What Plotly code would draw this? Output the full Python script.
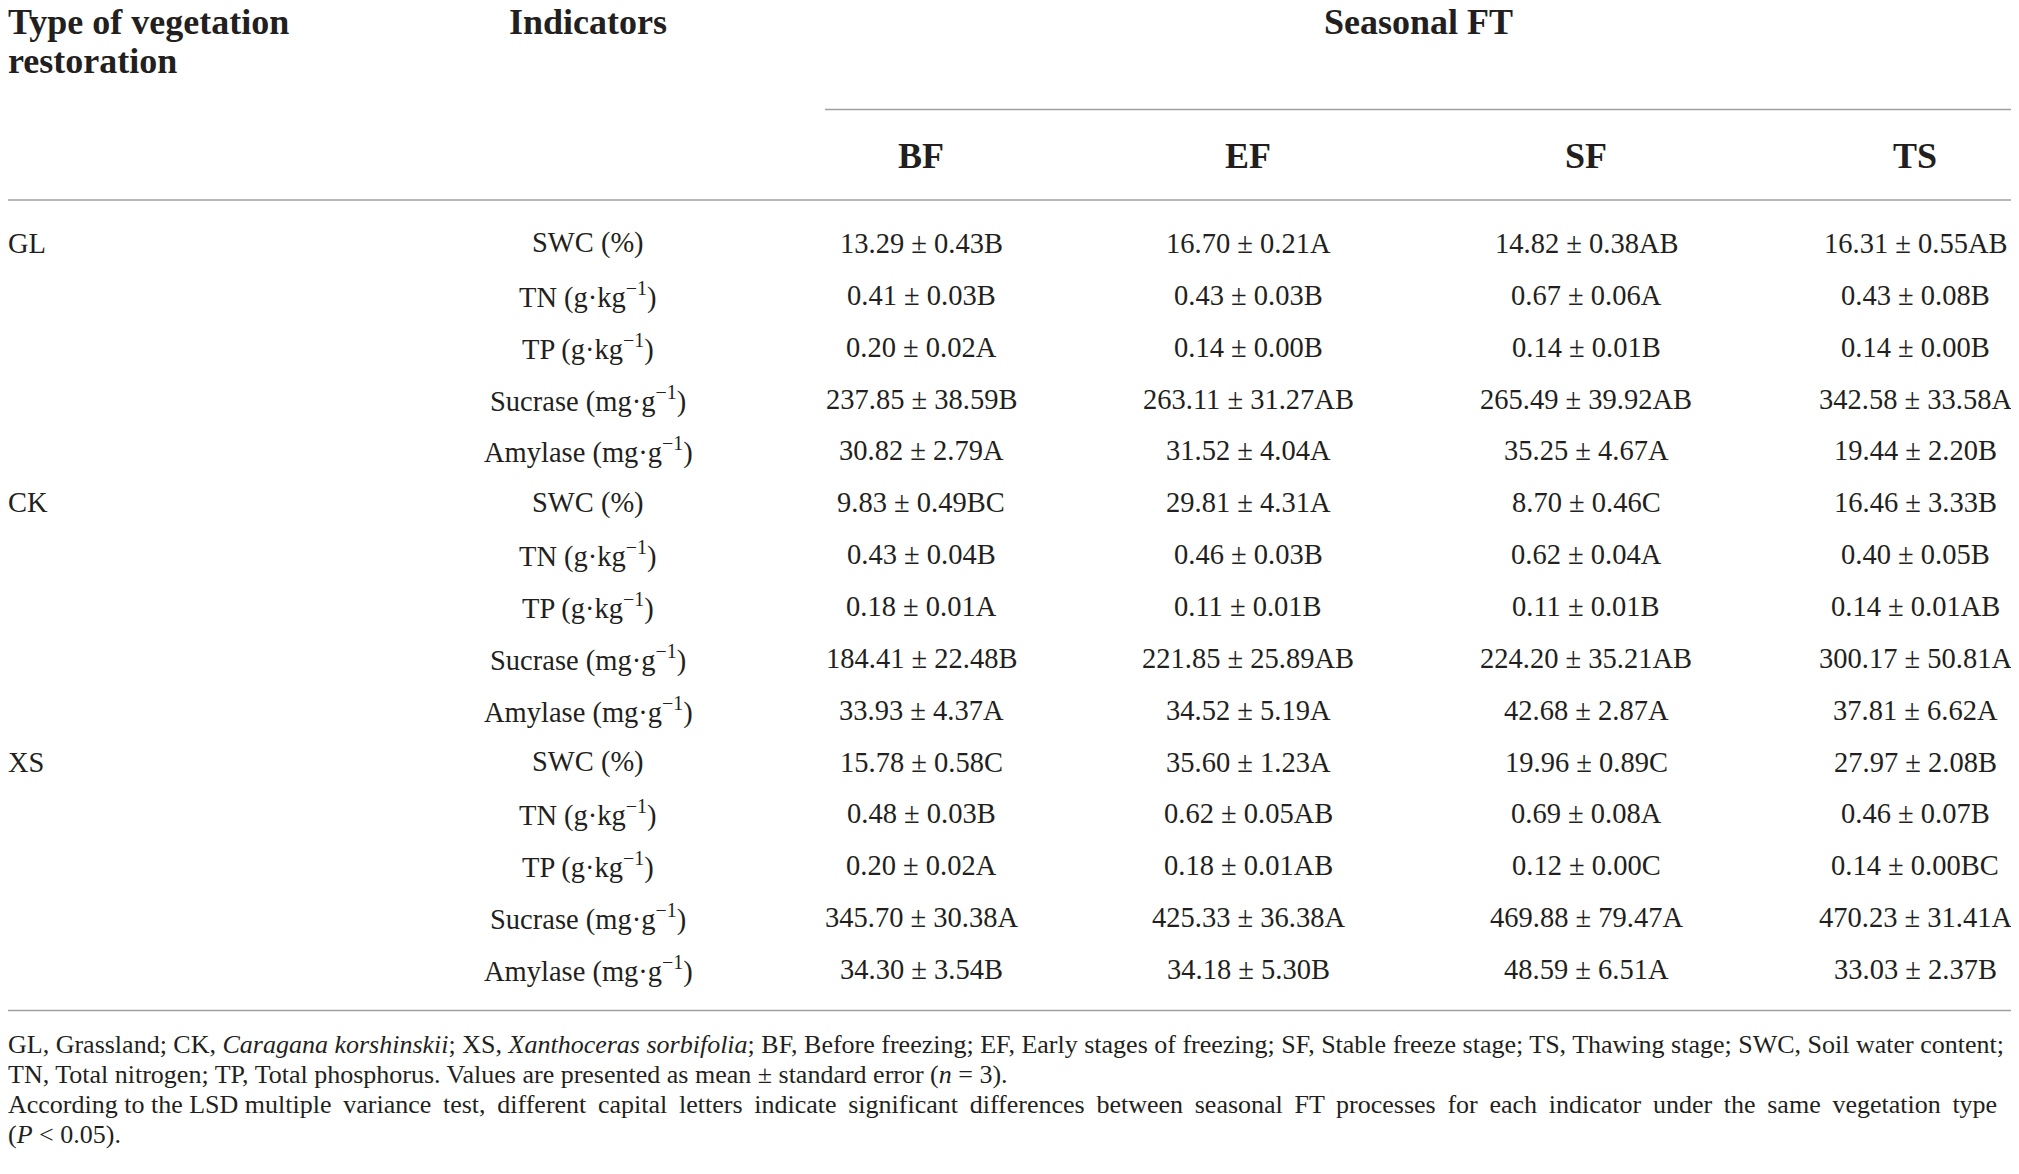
import plotly.graph_objects as go

W, H = 2019, 1174

veg_types = ["GL", "CK", "XS"]
indicators = ["SWC (%)", "TN (g·kg<sup>−1</sup>)", "TP (g·kg<sup>−1</sup>)",
              "Sucrase (mg·g<sup>−1</sup>)", "Amylase (mg·g<sup>−1</sup>)"]
stages = ["BF", "EF", "SF", "TS"]

BF = ["13.29 ± 0.43B", "0.41 ± 0.03B", "0.20 ± 0.02A", "237.85 ± 38.59B", "30.82 ± 2.79A",
      "9.83 ± 0.49BC", "0.43 ± 0.04B", "0.18 ± 0.01A", "184.41 ± 22.48B", "33.93 ± 4.37A",
      "15.78 ± 0.58C", "0.48 ± 0.03B", "0.20 ± 0.02A", "345.70 ± 30.38A", "34.30 ± 3.54B"]
EF = ["16.70 ± 0.21A", "0.43 ± 0.03B", "0.14 ± 0.00B", "263.11 ± 31.27AB", "31.52 ± 4.04A",
      "29.81 ± 4.31A", "0.46 ± 0.03B", "0.11 ± 0.01B", "221.85 ± 25.89AB", "34.52 ± 5.19A",
      "35.60 ± 1.23A", "0.62 ± 0.05AB", "0.18 ± 0.01AB", "425.33 ± 36.38A", "34.18 ± 5.30B"]
SF = ["14.82 ± 0.38AB", "0.67 ± 0.06A", "0.14 ± 0.01B", "265.49 ± 39.92AB", "35.25 ± 4.67A",
      "8.70 ± 0.46C", "0.62 ± 0.04A", "0.11 ± 0.01B", "224.20 ± 35.21AB", "42.68 ± 2.87A",
      "19.96 ± 0.89C", "0.69 ± 0.08A", "0.12 ± 0.00C", "469.88 ± 79.47A", "48.59 ± 6.51A"]
TS = ["16.31 ± 0.55AB", "0.43 ± 0.08B", "0.14 ± 0.00B", "342.58 ± 33.58A", "19.44 ± 2.20B",
      "16.46 ± 3.33B", "0.40 ± 0.05B", "0.14 ± 0.01AB", "300.17 ± 50.81A", "37.81 ± 6.62A",
      "27.97 ± 2.08B", "0.46 ± 0.07B", "0.14 ± 0.00BC", "470.23 ± 31.41A", "33.03 ± 2.37B"]

header_veg = ["Type of vegetation", "restoration"]
header_ind = "Indicators"
header_group = "Seasonal FT"

footnotes = [
    "GL, Grassland; CK, <i>Caragana korshinskii</i>; XS, <i>Xanthoceras sorbifolia</i>; BF, Before freezing; EF, Early stages of freezing; SF, Stable freeze stage; TS, Thawing stage; SWC, Soil water content;",
    "TN, Total nitrogen; TP, Total phosphorus. Values are presented as mean ± standard error (<i>n</i> = 3).",
    "According to the LSD multiple variance test, different capital letters indicate significant differences between seasonal FT processes for each indicator under the same vegetation type",
    "(<i>P</i> &lt; 0.05).",
]
# lines that are justified full-width in the reference get a little extra word spacing
justify = [False, False, True, False]

FONT = "Liberation Serif"
TXT = "#231f20"
LINE = "#a0a0a0"
OFF = 8  # page body margin

fig = go.Figure()
fig.add_trace(go.Scatter(x=[OFF, W + OFF], y=[OFF, H + OFF], mode="markers", marker=dict(opacity=0),
                         hoverinfo="skip", showlegend=False))

col_x = [921, 1248, 1586, 1915]
ind_x = 588
left_x = 6
SHIFT = 12
row0, drow = 243.4, 51.87

ann = []
def add(text, x, y, size, xanchor="center", bold=False, align="center"):
    xs = 0
    if xanchor == "left":
        # anchor inside the visible range, then shift back to the page edge
        xs = -SHIFT
        x = x + SHIFT
    ann.append(dict(text=("<b>%s</b>" % text) if bold else text, x=x, y=y, xref="x", yref="y",
                    xanchor=xanchor, yanchor="middle", showarrow=False, align=align, xshift=xs,
                    font=dict(family=FONT, size=size, color=TXT)))

HS = 36
add(header_veg[0], left_x, 22, HS, xanchor="left", bold=True, align="left")
add(header_veg[1], left_x, 61, HS, xanchor="left", bold=True, align="left")
add(header_ind, ind_x, 22, HS, bold=True)
add(header_group, 1418, 22, HS, bold=True)
for s, cx in zip(stages, col_x):
    add(s, cx, 156, HS, bold=True)

BS = 28.5
cols = [BF, EF, SF, TS]
nrows = len(veg_types) * len(indicators)
for r in range(nrows):
    y = row0 + r * drow
    if r % len(indicators) == 0:
        add(veg_types[r // len(indicators)], left_x, y, BS, xanchor="left")
    add(indicators[r % len(indicators)], ind_x, y, BS)
    for c, cx in enumerate(col_x):
        add(cols[c][r], cx, y, BS)

def widen(t, skip=4):
    words = t.split(" ")
    out = words[0]
    for i, w in enumerate(words[1:]):
        out += (" " if i < skip else " \u2009") + w
    return out

foot_y = [1044.3, 1074, 1104.8, 1134.4]
for t, fy, j in zip(footnotes, foot_y, justify):
    if j:
        t = widen(t)
    add(t, left_x, fy, 26, xanchor="left", align="left")

fig.update_layout(annotations=ann)

shapes = [
    dict(type="line", xref="x", yref="y", x0=825, x1=2013, y0=109.5, y1=109.5, line=dict(color=LINE, width=1.5)),
    dict(type="line", xref="x", yref="y", x0=8, x1=2013, y0=200, y1=200, line=dict(color=LINE, width=1.5)),
    dict(type="line", xref="x", yref="y", x0=8, x1=2013, y0=1010.5, y1=1010.5, line=dict(color=LINE, width=1.5)),
]
fig.update_layout(shapes=shapes)

fig.update_layout(
    width=W, height=H, margin=dict(l=0, r=0, t=0, b=0),
    paper_bgcolor="white", plot_bgcolor="white",
    xaxis=dict(range=[OFF, W + OFF], visible=False, fixedrange=True),
    yaxis=dict(range=[H + OFF, OFF], visible=False, fixedrange=True),
    showlegend=False,
)

fig.write_html("out.html", config={"displayModeBar": False})
